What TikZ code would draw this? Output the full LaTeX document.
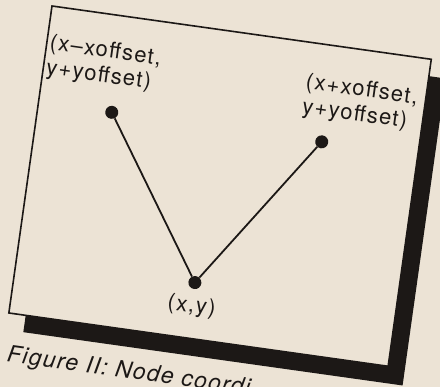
\documentclass[tikz,border=0pt]{standalone}
\usepackage{fontspec}
\setmainfont{TeX Gyre Heros}
\newfontfamily\labelfont[LetterSpace=6]{TeX Gyre Heros}
\usetikzlibrary{positioning}
\definecolor{PaperTone}{RGB}{236,227,213}
\definecolor{InkBlack}{RGB}{28,24,22}

\begin{document}
\begin{tikzpicture}[x=1pt,y=1pt,
  dot/.style={circle, fill=InkBlack, inner sep=0pt, minimum size=13pt},
  link/.style={InkBlack, line width=1.8pt},
  coordlabel/.style={inner sep=0pt, align=left, text=InkBlack, font=\labelfont\fontsize{22}{25}\selectfont},
  captext/.style={inner sep=0pt, text=InkBlack, font=\labelfont\itshape\fontsize{23}{26}\selectfont}]
  \useasboundingbox (0,0) rectangle (440,387);
  \fill[PaperTone] (0,0) rectangle (440,387);
  \clip (0,0) rectangle (440,387);
  \begin{scope}[shift={(52,381)}, rotate=-8, transform shape]
    % frame with drop shadow
    \fill[InkBlack] (17,-17) rectangle (400,-327);
    \fill[PaperTone] (0,0) rectangle (383,-310);
    \draw[InkBlack, line width=1.6pt] (0,0) rectangle (383,-310);

    % points
    \node[dot] (leftpt) at (74,-97) {};
    \node[dot] (rightpt) at (286,-97) {};
    \node[dot] (basept) at (180,-254) {};
    \draw[link] (leftpt) -- (basept) -- (rightpt);

    % labels
    \node[coordlabel, anchor=north west] (leftlbl) at (3,-27) {(x–xoffset,\\y+yoffset)};
    \node[coordlabel, anchor=north west] (rightlbl) at (262,-30) {(x+xoffset,\\y+yoffset)};
    \node[coordlabel, below=7pt of basept] (baselbl) {(x,y)};

    % caption
    \node[captext, anchor=base west] (caption) at (4,-358) {Figure II: Node coordi};
  \end{scope}
\end{tikzpicture}
\end{document}
